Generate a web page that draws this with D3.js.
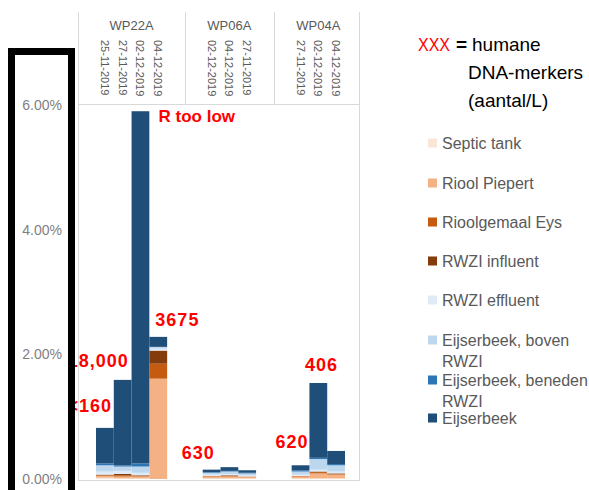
<!DOCTYPE html>
<html>
<head>
<meta charset="utf-8">
<script src="https://cdn.jsdelivr.net/npm/d3@7"></script>
<style>
  html, body { margin: 0; padding: 0; background: #fff; }
  svg { display: block; font-family: "Liberation Sans", Arial, sans-serif; }
</style>
</head>
<body>
<svg id="chart" width="589" height="490"></svg>
<script>
// Sampling locations and their sampling dates
const groups = ["WP22A", "WP06A", "WP04A"];
const dates = {
  WP22A: ["25-11-2019", "27-11-2019", "02-12-2019", "04-12-2019"],
  WP06A: ["02-12-2019", "04-12-2019", "27-11-2019"],
  WP04A: ["27-11-2019", "02-12-2019", "04-12-2019"]
};

// Source categories (stack order, bottom to top)
const sources = [
  "Septic tank", "Riool Piepert", "Rioolgemaal Eys", "RWZI influent",
  "RWZI effluent", "Eijserbeek, boven RWZI", "Eijserbeek, beneden RWZI", "Eijserbeek"
];
const sourceColors = ["#FBE5D6", "#F4B183", "#C55A11", "#843C0C",
                      "#DEEBF7", "#BDD7EE", "#2E75B6", "#1F4E79"];

// Share per source (%), one row per sample, same order as the dates above
const valuesWP22A = [
  [0.02, 0.03, 0.01, 0.01, 0.05, 0.10, 0.03, 0.57],
  [0.01, 0.03, 0.02, 0.02, 0.05, 0.07, 0.02, 1.37],
  [0.01, 0.03, 0.01, 0.01, 0.04, 0.10, 0.05, 5.65],
  [0.00, 1.61, 0.24, 0.21, 0.03, 0.03, 0.00, 0.16]
];
const valuesWP06A = [
  [0.01, 0.03, 0.01, 0.00, 0.02, 0.03, 0.01, 0.04],
  [0.01, 0.03, 0.01, 0.01, 0.02, 0.04, 0.01, 0.06],
  [0.01, 0.02, 0.01, 0.00, 0.02, 0.03, 0.01, 0.04]
];
const valuesWP04A = [
  [0.01, 0.03, 0.01, 0.00, 0.02, 0.05, 0.02, 0.08],
  [0.01, 0.08, 0.02, 0.01, 0.03, 0.17, 0.02, 1.20],
  [0.01, 0.06, 0.01, 0.01, 0.03, 0.10, 0.02, 0.21]
];

// Human DNA-marker counts (per L) written next to the bars
const markerLabels = [
  { group: "WP22A", date: "25-11-2019", text: "<160" },
  { group: "WP22A", date: "27-11-2019", text: "18,000" },
  { group: "WP22A", date: "02-12-2019", text: "R too low" },
  { group: "WP22A", date: "04-12-2019", text: "3675" },
  { group: "WP06A", date: "02-12-2019", text: "630" },
  { group: "WP04A", date: "27-11-2019", text: "620" },
  { group: "WP04A", date: "02-12-2019", text: "406" }
];

const yTicks = [0, 2, 4, 6];
const titleLines = ["humane", "DNA-merkers", "(aantal/L)"];

// ---------------------------------------------------------------------------
const valuesByGroup = { WP22A: valuesWP22A, WP06A: valuesWP06A, WP04A: valuesWP04A };

const rows = [];
groups.forEach(g => {
  dates[g].forEach((d, i) => {
    const row = { key: g + "|" + d, group: g, date: d };
    sources.forEach((s, j) => { row[s] = valuesByGroup[g][i][j]; });
    row.total = d3.sum(valuesByGroup[g][i]);
    rows.push(row);
  });
});

// category slots: bars of a location, two empty slots between locations
const slots = [];
groups.forEach((g, gi) => {
  if (gi > 0) { slots.push("gap" + gi + "a"); slots.push("gap" + gi + "b"); }
  dates[g].forEach(d => slots.push(g + "|" + d));
});

const svg = d3.select("#chart");

const plot = { left: 78, right: 359, top: 104, bottom: 480 };

const x = d3.scaleBand().domain(slots).range([96, 345]).padding(0);
const y = d3.scaleLinear().domain([0, 6]).range([479, 105]);
const color = d3.scaleOrdinal().domain(sources).range(sourceColors);

const series = d3.stack().keys(sources)(rows);

// plot frame and header grid
const gridColor = "#D9D9D9";
svg.append("rect")
  .attr("x", plot.left + 0.5).attr("y", plot.top + 0.5)
  .attr("width", plot.right - plot.left).attr("height", plot.bottom - plot.top)
  .attr("fill", "none").attr("stroke", gridColor);

const groupExtent = g => {
  const ks = dates[g].map(d => g + "|" + d);
  return [x(ks[0]), x(ks[ks.length - 1]) + x.bandwidth()];
};
const separators = [plot.left];
groups.forEach((g, gi) => {
  if (gi > 0) {
    const prev = groupExtent(groups[gi - 1]);
    const cur = groupExtent(g);
    separators.push(Math.round((prev[1] + cur[0]) / 2));
  }
});
separators.push(plot.right);
svg.selectAll("line.sep").data(separators).join("line")
  .attr("class", "sep")
  .attr("x1", d => d + 0.5).attr("x2", d => d + 0.5)
  .attr("y1", 12).attr("y2", plot.top)
  .attr("stroke", gridColor);

// stacked bars
svg.append("g").selectAll("g").data(series).join("g")
  .attr("fill", d => color(d.key))
  .selectAll("rect").data(d => d).join("rect")
  .attr("x", d => x(d.data.key))
  .attr("width", x.bandwidth())
  .attr("y", d => y(d[1]))
  .attr("height", d => Math.max(0, y(d[0]) - y(d[1])));

// header: location names and rotated dates
svg.append("g").selectAll("text").data(groups).join("text")
  .attr("x", g => d3.mean(groupExtent(g)))
  .attr("y", 25)
  .attr("text-anchor", "middle").attr("dominant-baseline", "central")
  .attr("font-size", 13).attr("fill", "#595959")
  .text(g => g);

svg.append("g").selectAll("text").data(rows).join("text")
  .attr("transform", d => `translate(${x(d.key) + x.bandwidth() / 2},40) rotate(90)`)
  .attr("dominant-baseline", "central")
  .attr("font-size", 11).attr("fill", "#595959")
  .text(d => d.date);

// red marker counts
const rowByKey = new Map(rows.map(r => [r.group + "|" + r.date, r]));
const labelPlacement = {
  "<160":      { anchor: "end",   dx: 16, dy: -22 },
  "18,000":    { anchor: "end",   dx: 15, dy: -19 },
  "R too low": { anchor: "start", dx: 27, dy: 5 },
  "3675":      { anchor: "start", dx: 6,  dy: -17 },
  "630":       { anchor: "end",   dx: 12, dy: -17 },
  "620":       { anchor: "end",   dx: 17, dy: -23 },
  "406":       { anchor: "middle", dx: 12, dy: -18 }
};
const isCount = t => /^[<\d]/.test(t);
svg.append("g").selectAll("text").data(markerLabels).join("text")
  .attr("x", d => x(d.group + "|" + d.date) + labelPlacement[d.text].dx)
  .attr("y", d => y(rowByKey.get(d.group + "|" + d.date).total) + labelPlacement[d.text].dy)
  .attr("text-anchor", d => labelPlacement[d.text].anchor)
  .attr("dominant-baseline", "central")
  .attr("font-size", d => isCount(d.text) ? 18 : 17)
  .attr("letter-spacing", d => isCount(d.text) ? 1 : 0)
  .attr("font-weight", "bold").attr("fill", "#FF0000")
  .text(d => d.text);

// value axis panel with heavy black frame
const axisPanel = svg.append("g");
axisPanel.append("rect")
  .attr("x", 11.5).attr("y", 51.5).attr("width", 60).attr("height", 460)
  .attr("fill", "#fff").attr("stroke", "#000").attr("stroke-width", 7);
axisPanel.selectAll("text").data(yTicks).join("text")
  .attr("x", 62).attr("y", d => y(d))
  .attr("text-anchor", "end").attr("dominant-baseline", "central")
  .attr("font-size", 14).attr("fill", "#7F7F7F")
  .text(d => d.toFixed(2) + "%");

// title
const title = svg.append("g");
title.append("text")
  .attr("x", 418).attr("y", 44).attr("dominant-baseline", "central")
  .attr("font-size", 19).attr("fill", "#FF0000")
  .attr("textLength", 32).attr("lengthAdjust", "spacingAndGlyphs")
  .text("XXX");
title.append("text")
  .attr("x", 456).attr("y", 44).attr("dominant-baseline", "central")
  .attr("font-size", 19).attr("font-weight", "bold").attr("fill", "#000")
  .text("=");
title.selectAll("text.line").data(titleLines).join("text")
  .attr("class", "line")
  .attr("x", (d, i) => i === 0 ? 472 : 468)
  .attr("y", (d, i) => 44 + i * 28)
  .attr("dominant-baseline", "central")
  .attr("font-size", 19).attr("fill", "#000")
  .text(d => d);

// legend
const legendY = [143, 183, 222, 261, 300, 340, 380, 418];
const legend = svg.append("g").selectAll("g").data(sources).join("g")
  .attr("transform", (d, i) => `translate(428,${legendY[i]})`);
legend.append("rect")
  .attr("x", 0).attr("y", -4.5).attr("width", 9).attr("height", 9)
  .attr("fill", d => color(d));
legend.each(function (d) {
  const parts = d.endsWith(" RWZI") ? [d.slice(0, -5), "RWZI"] : [d];
  d3.select(this).selectAll("text").data(parts).join("text")
    .attr("x", 14).attr("y", (p, i) => i * 21)
    .attr("dominant-baseline", "central")
    .attr("font-size", 16).attr("fill", "#595959")
    .text(p => p);
});
</script>
</body>
</html>
